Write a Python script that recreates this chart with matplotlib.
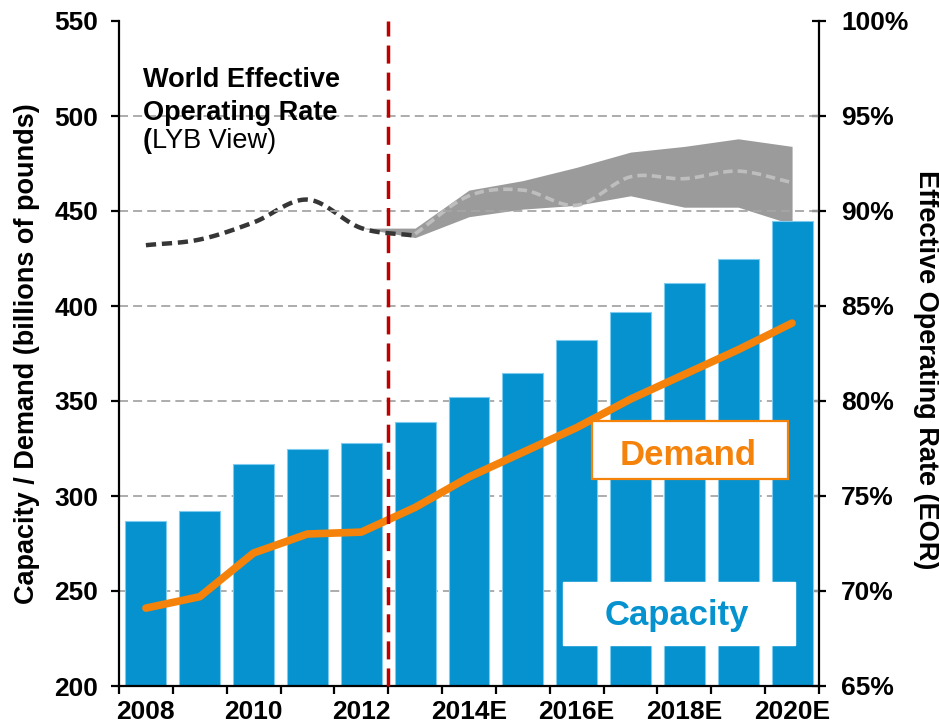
import numpy as np
import matplotlib
matplotlib.use("Agg")
import matplotlib.pyplot as plt
from matplotlib.patches import Rectangle

# ---- data ----
years = ["2008", "2009", "2010", "2011", "2012", "2013", "2014E",
         "2015E", "2016E", "2017E", "2018E", "2019E", "2020E"]
year_labels = ["2008", "", "2010", "", "2012", "", "2014E",
               "", "2016E", "", "2018E", "", "2020E"]
capacity = [287, 292, 317, 325, 328, 339, 352, 365, 382, 397, 412, 425, 445]
demand = [241, 247, 270, 280, 281, 294, 310, 323, 336, 351, 364, 377, 391]

# effective operating rate, %
eor_hist_years = years[:6]          # 2008-2013
eor_hist = [88.2, 88.5, 89.4, 90.6, 89.1, 88.7]
eor_band_years = years[4:]          # 2012-2020E
eor_high = [89.1, 89.1, 91.1, 91.6, 92.3, 93.1, 93.4, 93.8, 93.4]
eor_low = [89.1, 88.6, 89.7, 90.1, 90.3, 90.8, 90.2, 90.2, 89.3]
eor_mid_years = years[5:]           # 2013-2020E
eor_mid = [88.8, 90.8, 91.1, 90.3, 91.8, 91.7, 92.1, 91.5]

left_ticks = [200, 250, 300, 350, 400, 450, 500, 550]
right_ticks = [65, 70, 75, 80, 85, 90, 95, 100]
forecast_start = "2013"

# colours
C_BAR = "#0592CF"
C_BAR_EDGE = "#7FCBEF"
C_DEMAND = "#F5820A"
C_RED = "#C00000"
C_EOR = "#363636"
C_BAND = "#9B9B9B"
C_MID = "#BEBEBE"
C_GRID = "#A6A6A6"

FONT = "Liberation Sans"
plt.rcParams["font.family"] = [FONT, "DejaVu Sans"]
TICK_SIZE = 19


def smooth(xs, ys, n=24):
    """Excel-like smoothed line (uniform Catmull-Rom through the points)."""
    x = np.asarray(xs, float)
    y = np.asarray(ys, float)
    px = np.concatenate([[2 * x[0] - x[1]], x, [2 * x[-1] - x[-2]]])
    py = np.concatenate([[2 * y[0] - y[1]], y, [2 * y[-1] - y[-2]]])
    out_x, out_y = [], []
    t = np.linspace(0, 1, n, endpoint=False)
    for i in range(1, len(px) - 2):
        for p, out in ((px, out_x), (py, out_y)):
            p0, p1, p2, p3 = p[i - 1], p[i], p[i + 1], p[i + 2]
            out.extend(0.5 * (2 * p1 + (-p0 + p2) * t
                              + (2 * p0 - 5 * p1 + 4 * p2 - p3) * t ** 2
                              + (-p0 + 3 * p1 - 3 * p2 + p3) * t ** 3))
    out_x.append(x[-1])
    out_y.append(y[-1])
    return np.array(out_x), np.array(out_y)


pos = {y: i for i, y in enumerate(years)}
x = np.arange(len(years))

fig = plt.figure(figsize=(9.39, 7.28), dpi=100)
ax = fig.add_axes([119 / 939, 1 - 686 / 728, 700 / 939, 665 / 728])
ax2 = ax.twinx()
ax.set_zorder(ax2.get_zorder() + 1)
ax.patch.set_visible(False)

# ---- secondary axis: operating rate ----
bx = [pos[y] for y in eor_band_years]
ax2.fill_between(bx, eor_low, eor_high, color=C_BAND, lw=0, zorder=1)
mx, my = smooth([pos[y] for y in eor_mid_years], eor_mid)
ax2.plot(mx, my, color=C_MID, lw=2.6, dashes=(2.6, 1.4), zorder=2)
hx, hy = smooth([pos[y] for y in eor_hist_years], eor_hist)
ax2.plot(hx, hy, color=C_EOR, lw=3.2, dashes=(2.3, 1.3), zorder=3)
ax2.set_ylim(right_ticks[0], right_ticks[-1])
ax2.set_yticks(right_ticks, labels=[f"{t}%" for t in right_ticks])

# ---- primary axis: capacity / demand ----
for t in left_ticks[1:-1]:
    ax.axhline(t, color=C_GRID, lw=1.3, dashes=(5, 2.8), zorder=0.5)
ax.bar(x, capacity, width=0.76, color=C_BAR, edgecolor=C_BAR_EDGE,
       linewidth=0.8, zorder=2)
ax.plot(x, demand, color=C_DEMAND, lw=5.5, solid_capstyle="round",
        solid_joinstyle="round", zorder=4)
ax.axvline(pos[forecast_start] - 0.5, color=C_RED, lw=2.5,
           dashes=(5.2, 2.6), zorder=5, clip_on=False)

ax.set_xlim(-0.5, len(years) - 0.5)
ax.set_ylim(left_ticks[0], left_ticks[-1])
ax.set_yticks(left_ticks)
ax.set_xticks(x, labels=year_labels)
ax.set_xticks(np.arange(len(years) + 1) - 0.5, minor=True)

# spines / ticks
for a in (ax, ax2):
    a.spines["top"].set_visible(False)
ax.spines["right"].set_visible(False)
ax2.spines["left"].set_visible(False)
ax2.spines["bottom"].set_visible(False)
for s in ("left", "bottom"):
    ax.spines[s].set_linewidth(1.6)
ax2.spines["right"].set_linewidth(1.6)

ax.tick_params(axis="x", which="major", length=0, pad=10)
ax.tick_params(axis="x", which="minor", length=6, width=1.6, direction="out")
ax.tick_params(axis="y", length=6, width=1.6, direction="out", pad=9)
ax2.tick_params(axis="y", length=10, width=1.6, direction="inout", pad=11)
for lab in ax.get_xticklabels() + ax.get_yticklabels() + ax2.get_yticklabels():
    lab.set_fontsize(TICK_SIZE)
    lab.set_fontweight("bold")

ax.set_ylabel("Capacity / Demand (billions of pounds)", fontsize=19.5,
              fontweight="bold", va="center", ha="center")
ax.yaxis.set_label_coords(-0.131, 0.5)
ax2.set_ylabel("Effective Operating Rate (EOR)", fontsize=19.5,
               fontweight="bold", rotation=-90, va="center", ha="center")
ax2.yaxis.set_label_coords(1.153, 0.475)

# ---- annotations ----
NOTE_SIZE = 19.5
ax.text(0.034, 0.901, "World Effective", transform=ax.transAxes,
        fontsize=NOTE_SIZE, fontweight="bold", ha="left", va="baseline",
        zorder=6)
ax.text(0.034, 0.851, "Operating Rate", transform=ax.transAxes,
        fontsize=NOTE_SIZE, fontweight="bold", ha="left", va="baseline",
        zorder=6)
paren = ax.text(0.034, 0.809, "(", transform=ax.transAxes,
                fontsize=NOTE_SIZE, fontweight="bold", ha="left",
                va="baseline", zorder=6)
ax.annotate("LYB View)", xy=(1, 0), xycoords=paren, fontsize=NOTE_SIZE,
            ha="left", va="bottom", zorder=6)

ax.add_patch(Rectangle((0.675, 0.311), 0.281, 0.088, transform=ax.transAxes,
                       facecolor="white", edgecolor=C_DEMAND, lw=1.6,
                       zorder=6))
ax.text(0.813, 0.332, "Demand", transform=ax.transAxes, fontsize=25,
        fontweight="bold", color=C_DEMAND, ha="center", va="baseline",
        zorder=7)
ax.add_patch(Rectangle((0.634, 0.062), 0.331, 0.094, transform=ax.transAxes,
                       facecolor="white", edgecolor="white", lw=1,
                       zorder=6))
ax.text(0.797, 0.091, "Capacity", transform=ax.transAxes, fontsize=25,
        fontweight="bold", color=C_BAR, ha="center", va="baseline",
        zorder=7)

fig.savefig("out.png", dpi=100)
